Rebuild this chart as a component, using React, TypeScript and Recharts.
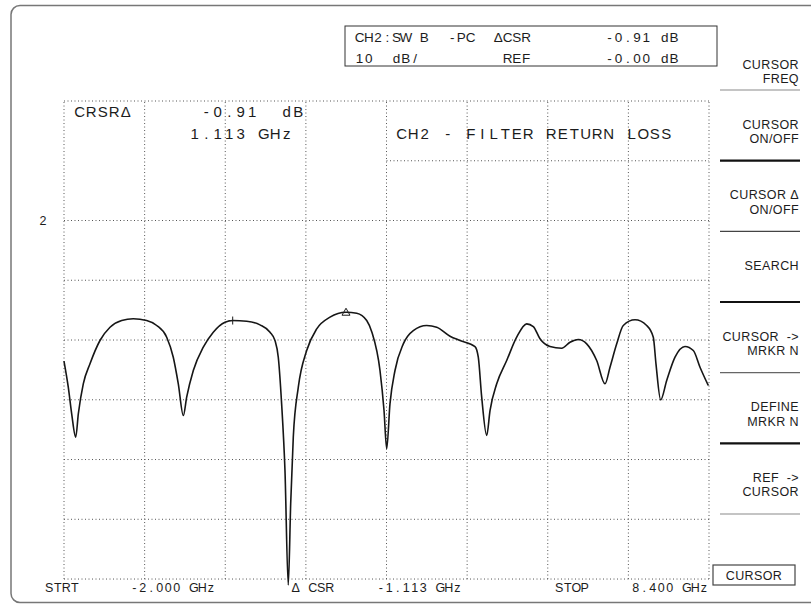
import React from 'react';
import { LineChart, Line, XAxis, YAxis, ReferenceLine, ReferenceDot } from 'recharts';

// trace: frequency (GHz) and return loss (dB)
const freqGHz = [
  -2.000, -1.931, -1.876, -1.811, -1.769, -1.689, -1.581, -1.420, -1.258, -1.070,
  -0.883, -0.667, -0.505, -0.344, -0.238, -0.157, -0.076, -0.022, 0.085, 0.246,
  0.407, 0.596, 0.720, 0.946, 1.160, 1.322, 1.402, 1.455, 1.509, 1.563,
  1.616, 1.655, 1.697, 1.778, 1.913, 2.075, 2.289, 2.547, 2.720, 2.881,
  2.966, 3.095, 3.160, 3.203, 3.256, 3.337, 3.471, 3.632, 3.848, 4.010,
  4.224, 4.385, 4.627, 4.680, 4.735, 4.816, 4.869, 4.977, 5.138, 5.299,
  5.461, 5.567, 5.675, 5.836, 6.025, 6.159, 6.293, 6.428, 6.589, 6.723,
  6.804, 6.912, 7.018, 7.207, 7.395, 7.502, 7.545, 7.621, 7.718, 7.852,
  8.013, 8.147, 8.255, 8.389,
];
const returnLossDb = [
  -23.55, -27.90, -32.35, -36.27, -32.35, -27.33, -23.98, -20.08, -17.86, -16.74,
  -16.45, -16.74, -17.57, -19.53, -22.88, -27.33, -32.64, -29.57, -25.10, -21.20,
  -18.69, -17.02, -16.74, -16.85, -17.46, -18.69, -20.08, -22.88, -30.68, -41.84,
  -61.0, -47.41, -36.27, -27.90, -21.76, -18.13, -16.18, -15.35, -15.51, -16.74,
  -18.74, -25.10, -31.80, -38.21, -30.68, -25.10, -20.64, -18.41, -17.57, -17.86,
  -19.36, -20.08, -21.09, -22.88, -29.57, -35.98, -31.80, -27.33, -23.43, -19.53,
  -17.29, -17.74, -19.80, -21.09, -21.37, -20.37, -19.92, -20.64, -23.43, -27.33,
  -24.55, -20.64, -17.57, -16.62, -17.57, -19.53, -23.98, -30.01, -26.78, -22.88,
  -21.09, -21.76, -24.55, -27.61,
];

// graticule: 1.3 GHz/div, 10 dB/div, ref (0 dB) on line 2
const xGrid = [-2, -0.7, 0.6, 1.9, 3.2, 4.5, 5.8, 7.1, 8.4];
const yGrid = [20, 0, -10, -20, -30, -40, -50, -60];
const cursorPoint = { f: 0.72, db: -16.74 };
const deltaPoint = { f: 2.547, db: -15.35 };

const headerRows = [
  'CH2:SW B  -PC  ΔCSR        -0.91 dB',
  '10  dB/         REF        -0.00 dB',
];
const annotRows = [
  'CRSRΔ      -0.91  dB',
  '          1.113 GHz         CH2 - FILTER RETURN LOSS',
];
const footerRow = 'STRT      -2.000 GHz         Δ CSR     -1.113 GHz           STOP     8.400 GHz';
const softKeys = [
  ['CURSOR', 'FREQ'],
  ['CURSOR', 'ON/OFF'],
  ['CURSOR Δ', 'ON/OFF'],
  ['SEARCH'],
  ['CURSOR  ->', 'MRKR N'],
  ['DEFINE', 'MRKR N'],
  ['REF  ->', 'CURSOR'],
];
const refLabel = '2';
const modeLabel = 'CURSOR';

const trace = freqGHz.map((f, i) => ({ f, db: returnLossDb[i] }));

const FONT = '"Liberation Sans", Arial, Helvetica, sans-serif';
const INK = '#1c1c1c';
const DOTS = '1 2.5';

// fixed-pitch screen text: each glyph centred in its own cell
function Cells({ row, x0, pitch, y, size }: { row: string; x0: number; pitch: number; y: number; size: number }) {
  const words = [...row.matchAll(/\S+/g)];
  return (
    <>
      {words.map((m, wi) => {
        const chars = Array.from(m[0]);
        const xs = chars.map((_, k) => (x0 + (m.index! + k + 0.5) * pitch).toFixed(2)).join(' ');
        return (
          <text key={wi} x={xs} y={y} textAnchor="middle" fontSize={size} fontFamily={FONT} fill={INK}>
            {m[0]}
          </text>
        );
      })}
    </>
  );
}

const plusShape = (p: any) => (
  <path d={`M${p.cx - 4},${p.cy}H${p.cx + 4}M${p.cx},${p.cy - 4}V${p.cy + 4}`} stroke={INK} strokeWidth={1} fill="none" />
);
const triShape = (p: any) => (
  <path d={`M${p.cx},${p.cy - 4}L${p.cx + 4},${p.cy + 3}L${p.cx - 4},${p.cy + 3}Z`} stroke={INK} strokeWidth={1} fill="none" />
);

const keyLineStyle = [
  { stroke: '#8a8a8a', w: 1.2 },
  { stroke: '#111', w: 2.2 },
  { stroke: '#444', w: 1.2 },
  { stroke: '#111', w: 2.2 },
  { stroke: '#666', w: 1.2 },
  { stroke: '#111', w: 2.2 },
  { stroke: '#8a8a8a', w: 1.2 },
];

export default function App() {
  return (
    <div style={{ position: 'absolute', left: 0, top: 0, width: 811, height: 605, background: '#fff', overflow: 'hidden' }}>
      <LineChart width={811} height={605} data={trace} margin={{ top: 101, right: 102, bottom: 17, left: 64 }}>
        <XAxis type="number" dataKey="f" domain={[-2, 8.4]} hide />
        <YAxis type="number" domain={[-61.5, 20]} hide />
        {xGrid.map((v) => (
          <ReferenceLine key={'gx' + v} segment={[{ x: v, y: -60 }, { x: v, y: 20 }]} ifOverflow="visible"
            stroke="#555" strokeWidth={1} strokeDasharray={DOTS} />
        ))}
        {yGrid.map((v) => (
          <ReferenceLine key={'gy' + v} segment={[{ x: -2, y: v }, { x: 8.4, y: v }]} ifOverflow="visible"
            stroke="#555" strokeWidth={1} strokeDasharray={DOTS} />
        ))}
        <ReferenceLine segment={[{ x: 3.2, y: 10 }, { x: 8.4, y: 10 }]} ifOverflow="visible"
          stroke="#555" strokeWidth={1} strokeDasharray={DOTS} />
        <Line dataKey="db" type="monotone" stroke="#161616" strokeWidth={1.6} dot={false} isAnimationActive={false} />
        <ReferenceDot x={cursorPoint.f} y={cursorPoint.db} shape={plusShape} ifOverflow="visible" />
        <ReferenceDot x={deltaPoint.f} y={deltaPoint.db} shape={triShape} ifOverflow="visible" />
      </LineChart>

      <svg width={811} height={605} style={{ position: 'absolute', left: 0, top: 0, pointerEvents: 'none' }}>
        {/* screen bezel */}
        <rect x={11} y={5.5} width={830} height={597} rx={9} fill="none" stroke="#777" strokeWidth={1.5} />

        {/* status box */}
        <rect x={345} y={26} width={372} height={40} fill="none" stroke="#333" strokeWidth={1} />
        {headerRows.map((r, i) => (
          <Cells key={'h' + i} row={r} x0={355} pitch={9.25} y={41.5 + i * 21.6} size={13.5} />
        ))}

        {/* cursor readout + title */}
        {annotRows.map((r, i) => (
          <Cells key={'a' + i} row={r} x0={74} pitch={11.5} y={117 + i * 21.5} size={15} />
        ))}

        <text x={43} y={224.5} textAnchor="middle" fontSize={12.5} fontFamily={FONT} fill={INK}>{refLabel}</text>

        <Cells row={footerRow} x0={45} pitch={8.5} y={591.5} size={12.5} />

        {/* softkey menu */}
        {softKeys.map((lines, i) => {
          const ly = 90 + i * 70.67;
          const gap = i === 0 ? 11 : 22;
          const st = keyLineStyle[i];
          return (
            <g key={'k' + i}>
              {lines.map((t, j) => {
                const cy = lines.length === 1 ? ly - 36 : ly - gap - (lines.length - 1 - j) * 14.5;
                return (
                  <text key={j} x={799} y={cy + 4.4} textAnchor="end" fontSize={12.5} fontFamily={FONT}
                    fill={INK} letterSpacing={0.4} style={{ whiteSpace: 'pre' }}>
                    {t}
                  </text>
                );
              })}
              <line x1={720} x2={800} y1={ly} y2={ly} stroke={st.stroke} strokeWidth={st.w} />
            </g>
          );
        })}
        <rect x={713} y={565} width={82} height={20} fill="none" stroke="#444" strokeWidth={1.2} />
        <text x={754} y={579.5} textAnchor="middle" fontSize={12.5} fontFamily={FONT} fill={INK} letterSpacing={0.4}>{modeLabel}</text>
      </svg>
    </div>
  );
}
